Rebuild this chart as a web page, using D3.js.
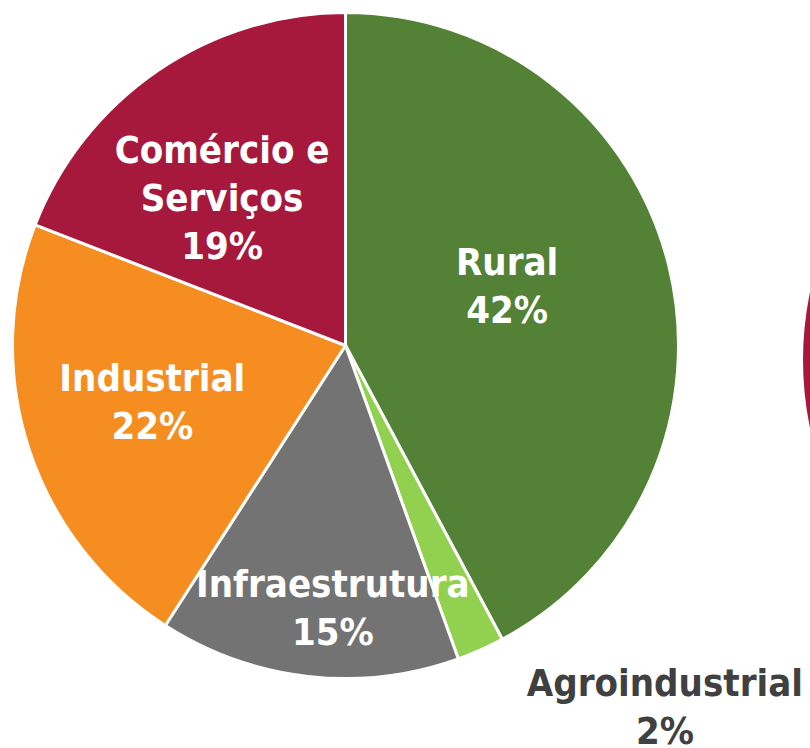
<!DOCTYPE html>
<html>
<head>
<meta charset="utf-8">
<script src="https://cdn.jsdelivr.net/npm/d3@7"></script>
<style>
  body{margin:0;background:#fff;}
  svg{display:block;}
  .lbl{font-family:"DejaVu Sans Condensed","DejaVu Sans",sans-serif;font-weight:bold;font-stretch:condensed;font-size:38px;}
</style>
</head>
<body>
<div id="chart"></div>
<script>
// setor / participação (%)
const categories = ["Rural","Agroindustrial","Infraestrutura","Industrial","Comércio e Serviços"]
const values = [42.2, 2.3, 14.6, 21.8, 19.1]
const labelLines = [["Rural"],["Agroindustrial"],["Infraestrutura"],["Industrial"],["Comércio e","Serviços"]]
const colors = ["#538135","#92D050","#737373","#F58D21","#A6193C"]

function render(){
  let width = 810,
      height = 748,
      cx = 345.5, cy = 345.5,
      radius = 333,
      lineH = 48,
      capH = 28,
      // label radius (fraction of r) + nudge, per slice
      labelK = [0.55, 1.15, 0.55, 0.55, 0.55],
      nudge = [[-16,-16],[164,10],[8,80],[-19,-1],[-20,3]]

  const svg = d3.select("#chart").append("svg")
    .attr("width",width).attr("height",height)
    .attr("viewBox",`0 0 ${width} ${height}`)

  // second pie of the slide, mostly off-canvas on the right
  svg.append("circle")
    .attr("cx",803+radius).attr("cy",360).attr("r",radius)
    .attr("fill","#A6193C")

  const data = categories.map((c,i)=>({name:c, value:values[i], lines:labelLines[i], color:colors[i]}))
  const total = d3.sum(values)
  const pct = d3.format(".0%")

  const pie = d3.pie().value(d=>d.value).sort(null)
  const arc = d3.arc().innerRadius(0).outerRadius(radius)
  const arcs = pie(data)

  const g = svg.append("g").attr("transform",`translate(${cx},${cy})`)

  g.selectAll("path.slice")
    .data(arcs)
    .enter()
    .append("path")
    .attr("class","slice")
    .attr("d",arc)
    .attr("fill",d=>d.data.color)
    .attr("stroke","#fff")
    .attr("stroke-width",3)
    .attr("stroke-linejoin","round")

  const lbl = g.selectAll("text.lbl")
    .data(arcs)
    .enter()
    .append("text")
    .attr("class","lbl")
    .attr("text-anchor","middle")
    .attr("fill",(d,i)=> i==1 ? "#404040" : "#fff")
    .attr("transform",(d,i)=>{
      const r = radius*labelK[i]
      const [x,y] = d3.arc().innerRadius(r).outerRadius(r).centroid(d)
      return `translate(${x+nudge[i][0]},${y+nudge[i][1]})`
    })

  lbl.each(function(d){
    const lines = d.data.lines.concat([pct(d.data.value/total)])
    const n = lines.length
    const y0 = -(n-1)*lineH/2 + capH/2
    d3.select(this).selectAll("tspan")
      .data(lines)
      .enter()
      .append("tspan")
      .attr("x",0)
      .attr("y",(t,j)=>y0+j*lineH)
      .text(t=>t)
  })
}

render()
</script>
</body>
</html>
